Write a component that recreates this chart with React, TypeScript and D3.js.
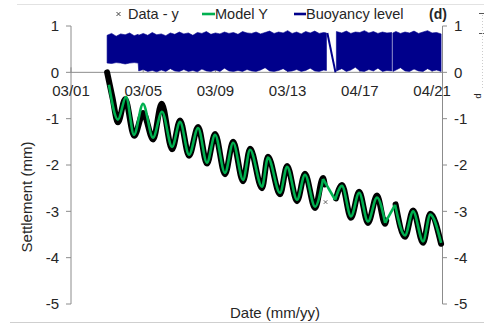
import React from "react";
import * as d3 from "d3";

// ---------- data ----------
const xTickDays = [0, 4, 8, 12, 16, 20];
const xTickLabels = ["03/01", "03/05", "03/09", "03/13", "04/17", "04/21"];
const yTicks = [1, 0, -1, -2, -3, -4, -5];

// Buoyancy level envelope (band between low and high readings), null = data gap
const buoyDays = [
  2.0, 2.25, 2.5, 2.75, 3.0, 3.25, 3.5, 3.72,
  3.75, 4.0, 4.25, 4.5, 4.75, 5.0, 5.25, 5.5, 5.75, 6.0,
  6.25, 6.5, 6.75, 7.0, 7.25, 7.5, 7.75, 8.0, 8.25, 8.5,
  8.75, 9.0, 9.25, 9.5, 9.75, 10.0, 10.25, 10.5, 10.75, 11.0,
  11.25, 11.5, 11.75, 12.0, 12.25, 12.5, 12.75, 13.0, 13.25, 13.5,
  13.75, 14.0,
  14.15, 14.4, 14.7,
  15.0, 15.25, 15.5, 15.75, 16.0, 16.25, 16.5, 16.75, 17.0, 17.25, 17.5,
  17.77, 17.8, 17.83,
  18.0, 18.25, 18.5, 18.75, 19.0, 19.25, 19.5, 19.75, 20.0, 20.25, 20.5,
];
const buoyHigh: (number | null)[] = [
  0.8, 0.84, 0.78, 0.83, 0.81, 0.85, 0.79, 0.82,
  0.8, 0.84, 0.8, 0.86, 0.81, 0.83, 0.79, 0.85, 0.82, 0.87,
  0.83, 0.85, 0.8, 0.86, 0.84, 0.88, 0.82, 0.85, 0.83, 0.87,
  0.84, 0.86, 0.82, 0.88, 0.85, 0.84, 0.87, 0.83, 0.86, 0.89,
  0.84, 0.87, 0.85, 0.9, 0.84, 0.87, 0.83, 0.88, 0.85, 0.89,
  0.84, 0.86,
  0.85, null, 0.88,
  0.85, 0.89, 0.84, 0.87, 0.86, 0.9, 0.85, 0.88, 0.84, 0.87, 0.85,
  0.86, null, 0.85,
  0.88, 0.84, 0.87, 0.85, 0.89, 0.84, 0.87, 0.9, 0.85, 0.86, 0.83,
];
const buoyLow: (number | null)[] = [
  0.2, 0.19, 0.21, 0.2, 0.18, 0.2, 0.21, 0.2,
  0.03, 0.06, 0.02, 0.04, 0.01, 0.05, 0.02, 0.08, 0.03, 0.02,
  0.06, 0.02, 0.04, 0.01, 0.07, 0.03, 0.02, 0.05, 0.02, 0.09,
  0.03, 0.02, 0.04, 0.02, 0.06, 0.03, 0.02, 0.05, 0.1, 0.03,
  0.02, 0.04, 0.08, 0.02, 0.03, 0.06, 0.02, 0.04, 0.09, 0.03,
  0.02, 0.05,
  0.04, null, 0.03,
  0.08, 0.02, 0.05, 0.11, 0.03, 0.02, 0.06, 0.03, 0.09, 0.02, 0.04,
  0.03, null, 0.02,
  0.05, 0.1, 0.03, 0.02, 0.07, 0.03, 0.02, 0.08, 0.03, 0.05, 0.02,
];
// buoyancy reading bridging the first gap
const buoyBridgeDays = [14.2, 14.65];
const buoyBridgeVals = [0.85, 0.0];

// Measured settlement (daily extrema), null = gap
const dataDays = [
  2.0, 2.3, 2.6, 3.0, 3.5, 4.0, 4.55, 5.02, 5.6, 6.04, 6.54, 7.04, 7.53, 7.98,
  8.53, 8.98, 9.53, 9.92, 10.58, 10.91, 11.58, 11.97, 12.52, 12.96, 13.52,
  13.96, 14.05, 14.3, 14.68, 15.01, 15.51, 15.96, 16.45, 16.95, 17.4, 17.46,
  17.7, 17.98, 18.5, 18.95, 19.5, 19.9, 20.5,
];
const dataVals: (number | null)[] = [
  0.0, -0.55, -1.08, -0.58, -1.37, -0.88, -1.45, -0.68, -1.66, -1.04, -1.8,
  -1.18, -1.97, -1.33, -2.2, -1.5, -2.35, -1.65, -2.5, -1.82, -2.63, -2.02,
  -2.78, -2.19, -2.93, -2.28, -2.42, null, -2.72, -2.43, -3.14, -2.58, -3.25,
  -2.66, -3.27, -3.2, null, -2.85, -3.55, -2.98, -3.68, -3.05, -3.7,
];
const strayDays = [14.1];
const strayVals = [-2.8];

// Model Y (daily extrema)
const modelDays = [
  2.1, 2.6, 3.05, 3.49, 3.99, 4.54, 5.04, 5.6, 6.04, 6.54, 7.04, 7.53, 7.98,
  8.53, 8.98, 9.53, 9.92, 10.58, 10.91, 11.58, 11.97, 12.52, 12.96, 13.52,
  13.96, 14.63, 15.01, 15.51, 15.96, 16.45, 16.95, 17.4, 17.95, 18.5, 18.95,
  19.5, 19.9, 20.5,
];
const modelVals = [
  -0.27, -1.02, -0.53, -1.35, -0.68, -1.41, -0.85, -1.61, -1.07, -1.78, -1.2,
  -1.95, -1.35, -2.17, -1.52, -2.32, -1.67, -2.47, -1.84, -2.6, -2.04, -2.75,
  -2.21, -2.9, -2.3, -2.75, -2.45, -3.11, -2.6, -3.22, -2.7, -3.25, -2.86,
  -3.52, -3.0, -3.65, -3.07, -3.68,
];
// model segments that bridge data gaps are drawn straight
const modelBridgeStarts = [13.96, 17.4];

const legendItems = ["Data - y", "Model Y", "Buoyancy level"];

// ---------- chart ----------
const W = 484;
const H = 326;
const FONT = "'Liberation Sans', Arial, sans-serif";
const TXT = "#262626";
const AX = "#8c8c8c";

export default function App() {
  const x = d3.scaleLinear().domain([0, 20.55]).range([71, 442]);
  const y = d3.scaleLinear().domain([-5, 1]).range([304, 26]);

  type P = { d: number; v: number | null };
  type B = { d: number; lo: number | null; hi: number | null };

  const buoy: B[] = buoyDays.map((d, i) => ({ d, lo: buoyLow[i], hi: buoyHigh[i] }));
  const area = d3
    .area<B>()
    .defined((p) => p.hi != null && p.lo != null)
    .x((p) => x(p.d))
    .y0((p) => y(p.lo as number))
    .y1((p) => y(p.hi as number))
    .curve(d3.curveLinear);

  const bridge = d3.line<number>()
    .x((d) => x(d))
    .y((_, i) => y(buoyBridgeVals[i]))(buoyBridgeDays);

  const data: P[] = dataDays.map((d, i) => ({ d, v: dataVals[i] }));
  const dataLine = d3
    .line<P>()
    .defined((p) => p.v != null)
    .x((p) => x(p.d))
    .y((p) => y(p.v as number))
    .curve(d3.curveMonotoneX);

  const model: P[] = modelDays.map((d, i) => ({ d, v: modelVals[i] }));
  const runs: { pts: P[]; straight: boolean }[] = [];
  let cur: P[] = [];
  model.forEach((p, i) => {
    cur.push(p);
    if (modelBridgeStarts.includes(p.d) && i < model.length - 1) {
      runs.push({ pts: cur, straight: false });
      runs.push({ pts: [p, model[i + 1]], straight: true });
      cur = [];
    }
  });
  if (cur.length) runs.push({ pts: cur, straight: false });
  const smooth = d3.line<P>().x((p) => x(p.d)).y((p) => y(p.v as number)).curve(d3.curveMonotoneX);
  const straight = d3.line<P>().x((p) => x(p.d)).y((p) => y(p.v as number));

  const xMark = (cx: number, cy: number, s: number) =>
    `M${cx - s},${cy - s}L${cx + s},${cy + s}M${cx - s},${cy + s}L${cx + s},${cy - s}`;

  const yTop = y(1);
  const yBot = y(-5);
  const y0 = y(0);

  return (
    <svg
      width={W}
      height={H}
      style={{ position: "absolute", left: 0, top: 0, background: "#fff" }}
      fontFamily={FONT}
    >
      <line x1={17} x2={W} y1={4.5} y2={4.5} stroke="#e2e2e2" strokeWidth={1} />
      <line x1={10} x2={W} y1={322.5} y2={322.5} stroke="#cfcfcf" strokeWidth={1.2} />

      {/* left axis */}
      <line x1={71} x2={71} y1={yTop} y2={yBot} stroke={AX} strokeWidth={1} />
      {yTicks.map((t) => (
        <g key={"l" + t}>
          <line x1={66} x2={71} y1={y(t)} y2={y(t)} stroke={AX} />
          <text x={59} y={y(t)} dy="0.35em" textAnchor="end" fontSize={15} fill={TXT}>
            {t}
          </text>
        </g>
      ))}
      {/* right axis */}
      <line x1={442.5} x2={442.5} y1={yTop} y2={yBot} stroke={AX} strokeWidth={1} />
      {yTicks.map((t) => (
        <g key={"r" + t}>
          <line x1={442.5} x2={447} y1={y(t)} y2={y(t)} stroke={AX} />
          <text x={454} y={y(t)} dy="0.35em" textAnchor="start" fontSize={15} fill={TXT}>
            {t}
          </text>
        </g>
      ))}
      {/* x axis at zero */}
      <line x1={71} x2={442.5} y1={y0} y2={y0} stroke={AX} strokeWidth={1} />
      {xTickDays.map((d) => (
        <line key={"xt" + d} x1={x(d)} x2={x(d)} y1={y0} y2={y0 - 5} stroke={AX} />
      ))}

      {/* buoyancy level */}
      <path d={area(buoy) || ""} fill="#00008b" stroke="#00008b" strokeWidth={0.6} />
      <path d={bridge || ""} fill="none" stroke="#00008b" strokeWidth={2} />

      {/* measured data */}
      <path
        d={dataLine(data) || ""}
        fill="none"
        stroke="#000"
        strokeWidth={6}
        strokeLinejoin="round"
        strokeLinecap="round"
      />
      {strayDays.map((d, i) => (
        <path key={"s" + i} d={xMark(x(d), y(strayVals[i]), 1.8)} stroke="#555" strokeWidth={0.9} />
      ))}

      {/* model */}
      {runs.map((r, i) => (
        <path
          key={"m" + i}
          d={(r.straight ? straight(r.pts) : smooth(r.pts)) || ""}
          fill="none"
          stroke="#00b050"
          strokeWidth={2.6}
          strokeLinejoin="round"
        />
      ))}

      {/* x tick labels */}
      {xTickDays.map((d, i) => (
        <text key={"xl" + d} x={x(d)} y={91} dy="0.35em" textAnchor="middle" fontSize={15} fill={TXT}>
          {xTickLabels[i]}
        </text>
      ))}

      {/* axis titles */}
      <text x={275} y={313} dy="0.35em" textAnchor="middle" fontSize={15} fill={TXT}>
        Date (mm/yy)
      </text>
      <text
        transform={`translate(27,197) rotate(-90)`}
        dy="0.35em"
        textAnchor="middle"
        fontSize={15}
        fill={TXT}
      >
        Settlement (mm)
      </text>

      {/* legend */}
      <path d={xMark(118.5, 14, 2)} stroke="#444" strokeWidth={1} />
      <text x={128} y={14} dy="0.35em" fontSize={14.5} fill={TXT}>{legendItems[0]}</text>
      <line x1={202} x2={215} y1={14} y2={14} stroke="#00b050" strokeWidth={2.6} />
      <text x={215} y={14} dy="0.35em" fontSize={14.5} fill={TXT}>{legendItems[1]}</text>
      <line x1={294} x2={306} y1={14} y2={14} stroke="#00008b" strokeWidth={2.6} />
      <text x={306} y={14} dy="0.35em" fontSize={14.5} fill={TXT}>{legendItems[2]}</text>
      <text x={429} y={14} dy="0.35em" fontSize={14} fontWeight="bold" fill={TXT}>(d)</text>

      {/* edge of the neighbouring panel */}
      <line x1={479} x2={484} y1={13.5} y2={13.5} stroke="#555" />
      <line x1={479} x2={484} y1={33.5} y2={33.5} stroke="#555" />
      <line x1={482.5} x2={482.5} y1={15} y2={88} stroke="#ccc" strokeDasharray="1,2" />
      <text transform="translate(478,96) rotate(-90)" fontSize={9} fill={TXT} dy="0.35em" textAnchor="middle">d</text>
    </svg>
  );
}
